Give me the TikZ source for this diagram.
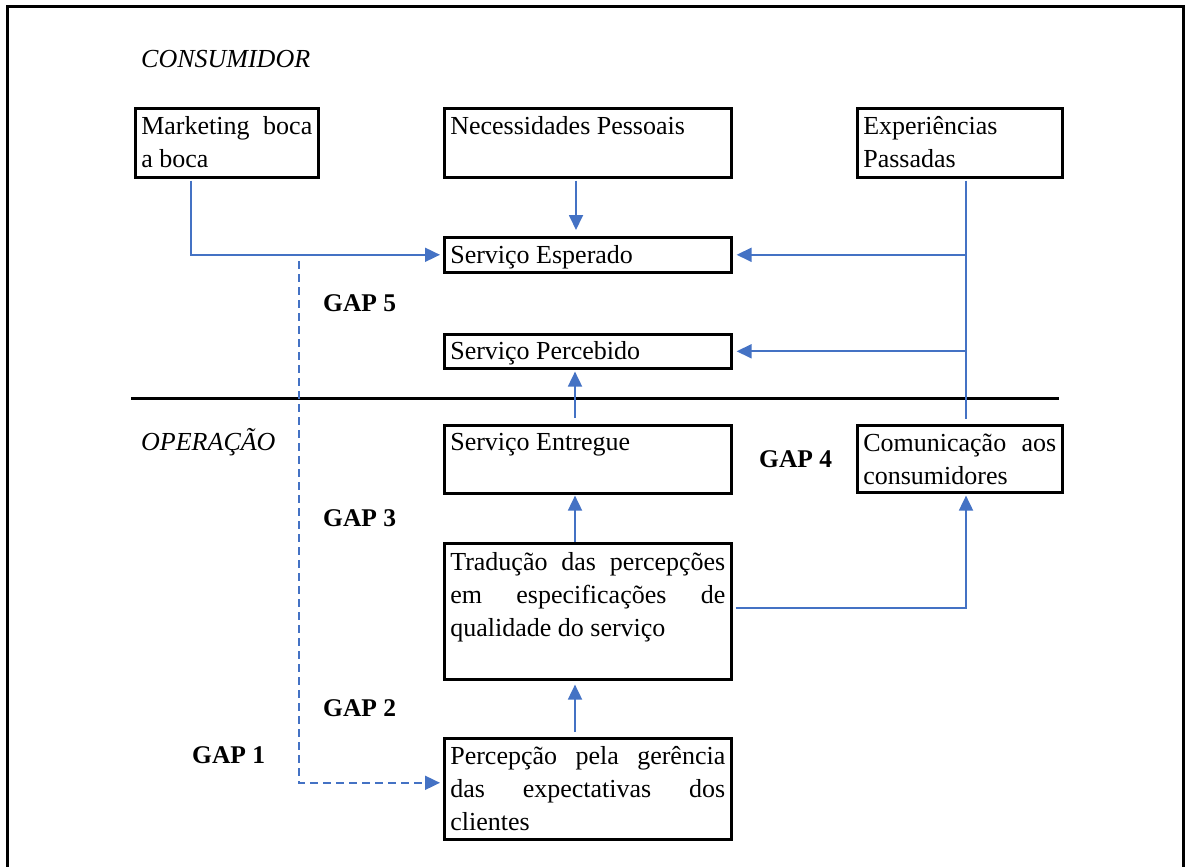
\documentclass[tikz,border=0pt]{standalone}
\usepackage{fontspec}
\setmainfont{Liberation Serif}
\usetikzlibrary{arrows.meta}
\definecolor{lblue}{RGB}{68,114,196}
\begin{document}
\begin{tikzpicture}[x=1pt,y=-1pt,
  box/.style={draw=black, line width=2.6pt, inner xsep=6pt, inner ysep=0pt, anchor=north west,
              font=\fontsize{26}{33}\selectfont},
  conn/.style={draw=lblue, line width=1.8pt},
  arr/.style={conn, -{Triangle[length=15pt,width=14pt]}},
  dasharr/.style={arr, dash pattern=on 8pt off 5pt},
  lbl/.style={anchor=base west, inner sep=0pt, font=\fontsize{26}{30}\selectfont\itshape},
  gaplbl/.style={anchor=base west, inner sep=0pt, font=\fontsize{25.5}{30}\selectfont\bfseries},
  frame/.style={draw=black, line width=3pt},
  divider/.style={draw=black, line width=3pt}]
\useasboundingbox (0,0) rectangle (1186,867);
\draw[frame] (7,870) -- (7,7) -- (1183,7) -- (1183,870);

\node[lbl] (consumidor) at (141,67) {CONSUMIDOR};
\node[lbl] (operacao) at (141,450) {OPERAÇÃO};

\node[box] (mk) at (134,107) {\parbox[t][69pt][t]{171pt}{\rule{0pt}{26pt}\makebox[\linewidth][s]{Marketing boca}\\a boca}};
\node[box] (nec) at (443,107) {\parbox[t][69pt][t]{275pt}{\rule{0pt}{26pt}Necessidades Pessoais}};
\node[box] (exp) at (856,107) {\parbox[t][69pt][t]{193pt}{\rule{0pt}{26pt}Experiências\\Passadas}};
\node[box] (esp) at (443,236) {\parbox[t][35pt][t]{275pt}{\rule{0pt}{26pt}Serviço Esperado}};
\node[box] (per) at (443,333) {\parbox[t][34pt][t]{275pt}{\rule{0pt}{25pt}Serviço Percebido}};
\node[box] (ent) at (443,424) {\parbox[t][68pt][t]{275pt}{\rule{0pt}{25pt}Serviço Entregue}};
\node[box] (com) at (856,424) {\parbox[t][67pt][t]{193pt}{\rule{0pt}{26pt}\makebox[\linewidth][s]{Comunicação aos}\\consumidores}};
\node[box] (tra) at (443,542) {\parbox[t][136pt][t]{275pt}{\rule{0pt}{27pt}\makebox[\linewidth][s]{Tradução das percepções}\\\makebox[\linewidth][s]{em especificações de}\\qualidade do serviço}};
\node[box] (pge) at (443,737) {\parbox[t][101pt][t]{275pt}{\rule{0pt}{26pt}\makebox[\linewidth][s]{Percepção pela gerência}\\\makebox[\linewidth][s]{das expectativas dos}\\clientes}};

\draw[divider] (131,398) -- (1059,398);

\node[gaplbl] (gap5) at (323,311) {GAP 5};
\node[gaplbl] (gap4) at (759,467) {GAP 4};
\node[gaplbl] (gap3) at (323,526) {GAP 3};
\node[gaplbl] (gap2) at (323,716) {GAP 2};
\node[gaplbl] (gap1) at (192,763) {GAP 1};

% connectors
\draw[arr] ([xshift=57pt,yshift=-2pt]mk.south west) |- ([xshift=-3pt]esp.west);
\draw[arr] ([xshift=133pt,yshift=-2pt]nec.south west) -- ([xshift=133pt,yshift=6pt]esp.north west);
\coordinate (v1) at ([xshift=110pt,yshift=-2pt]exp.south west);
\coordinate (v2) at ([xshift=110pt,yshift=5pt]com.north west);
\draw[conn] (v1) -- (v2);
\draw[arr] (v1 |- esp.east) -- ([xshift=4pt]esp.east);
\draw[arr] (v1 |- per.east) -- ([xshift=4pt]per.east);
\draw[arr] ([xshift=132pt,yshift=6pt]ent.north west) -- ([xshift=132pt,yshift=-2pt]per.south west);
\draw[arr] ([xshift=132pt]tra.north west) -- ([xshift=132pt,yshift=-1pt]ent.south west);
\draw[arr] ([xshift=132pt,yshift=5pt]pge.north west) -- ([xshift=132pt,yshift=-4pt]tra.south west);
\draw[arr] ([xshift=3pt,yshift=3pt]tra.east) -| ([xshift=110pt,yshift=-2pt]com.south west);
\coordinate (d0) at (299,261);
\draw[dasharr] (d0) |- ([xshift=-3pt,yshift=6pt]pge.west);
\end{tikzpicture}
\end{document}
